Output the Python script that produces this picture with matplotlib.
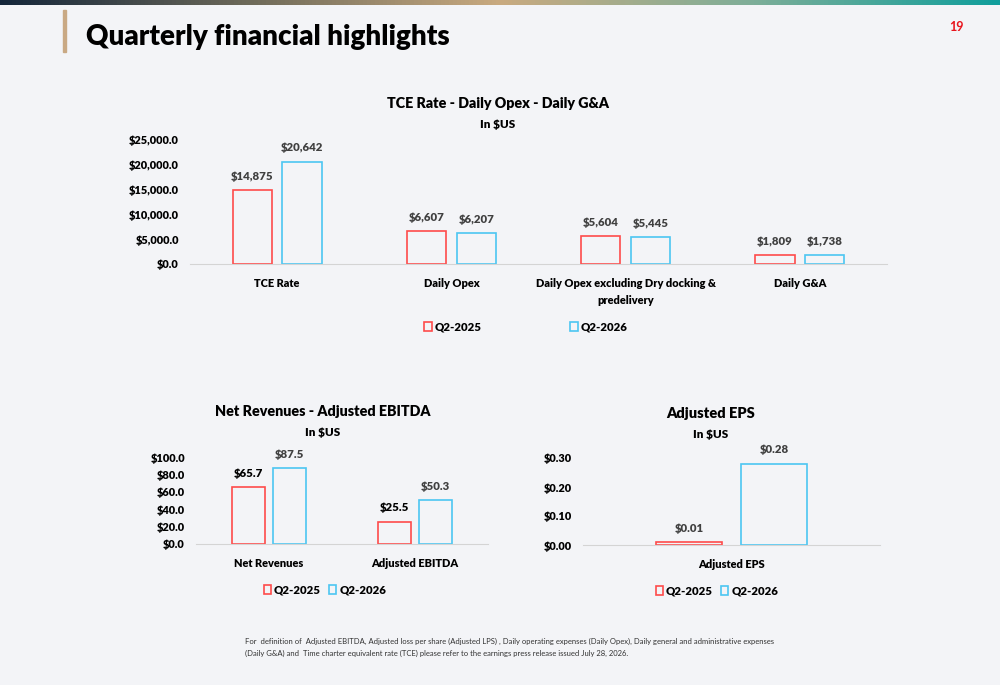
import numpy as np
import matplotlib.pyplot as plt
from matplotlib.patches import Rectangle
from matplotlib.colors import LinearSegmentedColormap
from matplotlib.ticker import FuncFormatter

plt.rcParams['font.family'] = ['Lato', 'DejaVu Sans']

# data
ops_labels = ["TCE Rate", "Daily Opex", "Daily Opex excluding Dry docking &\npredelivery", "Daily G&A"]
ops_2025 = [14875, 6607, 5604, 1809]
ops_2026 = [20642, 6207, 5445, 1738]

rev_labels = ["Net Revenues", "Adjusted EBITDA"]
rev_2025 = [65.7, 25.5]
rev_2026 = [87.5, 50.3]

eps_labels = ["Adjusted EPS"]
eps_2025 = [0.01]
eps_2026 = [0.28]

series_names = ["Q2-2025", "Q2-2026"]
RED = "#ff4b4b"
BLUE = "#4cc6f2"
BG = "#f3f4f7"
GRAY = "#404040"

fig = plt.figure(figsize=(10, 6.85), dpi=100)
fig.patch.set_facecolor(BG)

# header decoration
grad = np.linspace(0, 1, 256).reshape(1, -1)
cmap = LinearSegmentedColormap.from_list("hdr", ["#14263a", "#6e6a5a", "#c9aa80", "#7fae98", "#109e9c"])
hax = fig.add_axes([0, 1 - 5 / 685, 1, 5 / 685])
hax.imshow(grad, aspect="auto", cmap=cmap)
hax.axis("off")
fig.patches.append(Rectangle((0.063, 1 - 52 / 685), 0.003, 42 / 685, transform=fig.transFigure,
                             color="#c9a984", zorder=3))
fig.text(0.086, 1 - 37 / 685, "Quarterly financial highlights", fontsize=20, fontweight="heavy",
         va="center", ha="left", color="black")
fig.text(0.956, 1 - 27 / 685, "19", fontsize=9, fontweight="bold", color="#e8141c",
         va="center", ha="center")


def draw(ax, labels, v1, v2, ymax, ticks, tickfmt, valfmt, black_first=False):
    x = np.arange(len(labels))
    w = 0.225
    off = 0.143
    b1 = ax.bar(x - off, v1, w, fill=False, edgecolor=RED, linewidth=1.2, label=series_names[0])
    b2 = ax.bar(x + off, v2, w, fill=False, edgecolor=BLUE, linewidth=1.2, label=series_names[1])
    for bars, vals, col in [(b1, v1, "black" if black_first else GRAY), (b2, v2, GRAY)]:
        for r, v in zip(bars, vals):
            ax.annotate(valfmt(v), (r.get_x() + r.get_width() / 2, r.get_height()),
                        xytext=(0, 6), textcoords="offset points", ha="center", va="bottom",
                        fontsize=8.2, fontweight="heavy", color=col)
    ax.set_xlim(-0.5, len(labels) - 0.5)
    ax.set_ylim(0, ymax)
    ax.set_yticks(ticks)
    ax.yaxis.set_major_formatter(FuncFormatter(tickfmt))
    ax.set_xticks(x)
    ax.set_xticklabels(labels, fontsize=7.9, fontweight="heavy", linespacing=1.7)
    for s in ["top", "right", "left"]:
        ax.spines[s].set_visible(False)
    ax.spines["bottom"].set_color("#d4d4d4")
    ax.tick_params(length=0)
    ax.tick_params(axis="y", labelsize=7.9, pad=8)
    ax.tick_params(axis="x", pad=10)
    for t in ax.get_yticklabels():
        t.set_fontweight("heavy")
    ax.set_facecolor("none")
    return b1, b2


def add_legend(ax, anchor, spacing):
    h, l = ax.get_legend_handles_labels()
    leg = fig.legend(h, l, loc="center", bbox_to_anchor=anchor, ncol=2, frameon=False,
                     handlelength=0.65, handleheight=0.8, handletextpad=0.25, columnspacing=spacing,
                     prop={"weight": "heavy", "size": 8.2})
    return leg


# top chart
ax1 = fig.add_axes([0.19, 421 / 685, 0.697, 124 / 685])
draw(ax1, ops_labels, ops_2025, ops_2026, 25000, np.arange(0, 25001, 5000),
     lambda v, p: "${:,.1f}".format(v), lambda v: "${:,.0f}".format(v))
fig.text(0.498, 1 - 103 / 685, "TCE Rate - Daily Opex - Daily G&A", fontsize=10.3, fontweight="heavy",
         ha="center", va="center")
fig.text(0.498, 1 - 124 / 685, "In $US", fontsize=8.5, fontweight="heavy", ha="center", va="center")
add_legend(ax1, (0.526, 1 - 327 / 685), 7.8)

# bottom left chart
ax2 = fig.add_axes([0.196, 141 / 685, 0.292, 87 / 685])
draw(ax2, rev_labels, rev_2025, rev_2026, 100, np.arange(0, 101, 20),
     lambda v, p: "${:,.1f}".format(v), lambda v: "${:,.1f}".format(v), black_first=True)
fig.text(0.323, 1 - 411 / 685, "Net Revenues - Adjusted EBITDA", fontsize=10.3, fontweight="heavy",
         ha="center", va="center")
fig.text(0.323, 1 - 432 / 685, "In $US", fontsize=8.5, fontweight="heavy", ha="center", va="center")
add_legend(ax2, (0.325, 1 - 590 / 685), 0.7)

# bottom right chart
ax3 = fig.add_axes([0.583, 140 / 685, 0.297, 87 / 685])
draw(ax3, eps_labels, eps_2025, eps_2026, 0.30, np.arange(0, 0.31, 0.10),
     lambda v, p: "${:,.2f}".format(v), lambda v: "${:,.2f}".format(v))
fig.text(0.711, 1 - 414 / 685, "Adjusted EPS", fontsize=10.5, fontweight="heavy",
         ha="center", va="center")
fig.text(0.711, 1 - 435 / 685, "In $US", fontsize=8.5, fontweight="heavy", ha="center", va="center")
add_legend(ax3, (0.717, 1 - 591 / 685), 0.7)

# footnote
fig.text(0.245, 1 - 647.5 / 685,
         "For  definition of  Adjusted EBITDA, Adjusted loss per share (Adjusted LPS) , Daily operating expenses (Daily Opex), "
         "Daily general and administrative expenses\n(Daily G&A) and  Time charter equivalent rate (TCE) please refer to the "
         "earnings press release issued July 28, 2026.",
         fontsize=5.5, color="#333333", va="center", ha="left", linespacing=1.9)

fig.savefig("out.png", dpi=100, facecolor=BG)
